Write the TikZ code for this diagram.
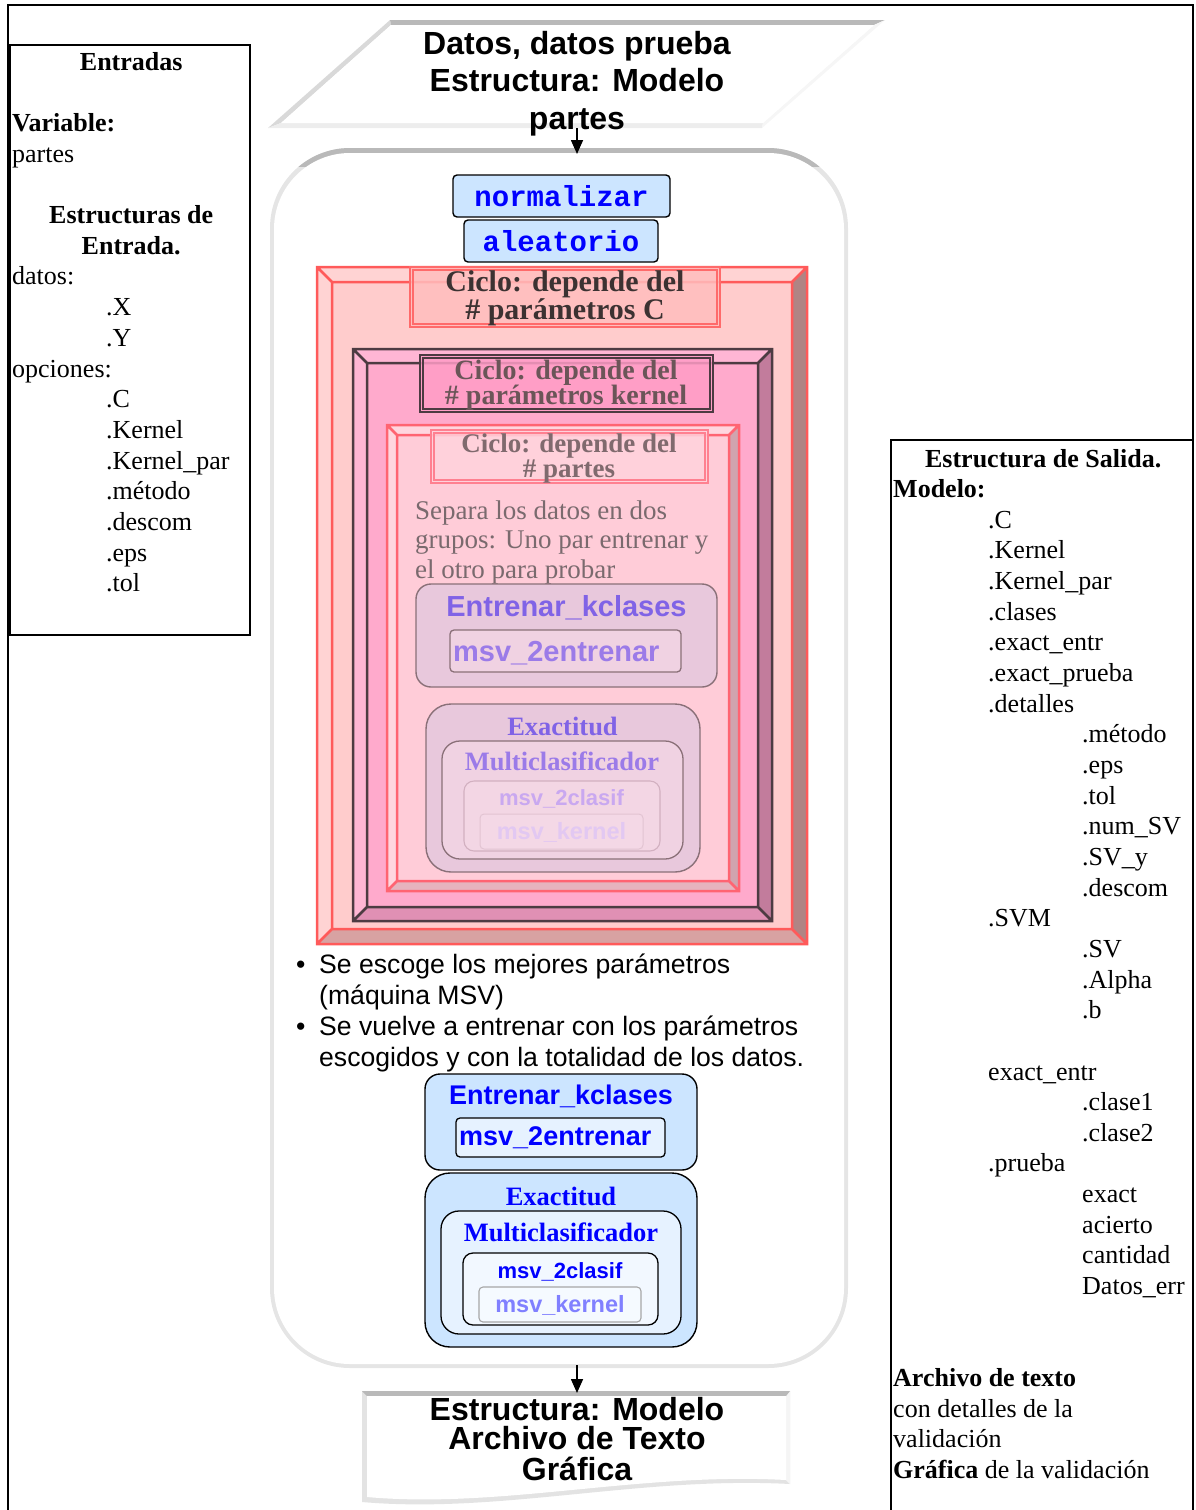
\documentclass[tikz,border=0pt]{standalone}
\usepackage{fontspec}
\setmainfont{Liberation Serif}
\setsansfont{Liberation Sans}
\setmonofont{Liberation Mono}
\usetikzlibrary{arrows.meta}

\definecolor{lblue}{HTML}{CCE5FF}
\definecolor{llblue}{HTML}{E6F2FF}
\definecolor{lllblue}{HTML}{F2F8FF}
\definecolor{kblue}{HTML}{8080FF}
\definecolor{pkbox}{HTML}{E8C8DC}
\definecolor{pkin}{HTML}{F0D2E2}
\definecolor{pkline}{HTML}{8A7078}
\definecolor{pkA}{HTML}{8063E6}
\definecolor{pkB}{HTML}{9B7BE8}
\definecolor{pkC}{HTML}{C9A8F0}
\definecolor{pkD}{HTML}{E2C8F2}

\newcommand\mybevel[5]{%
 \fill[bface] (#1,#2) rectangle (#3,#4);
 \fill[blight] (#1,#2) -- (#3,#2) -- ({#3-#5},{#2+#5}) -- ({#1+#5},{#2+#5}) -- cycle;
 \fill[blight] (#1,#2) -- ({#1+#5},{#2+#5}) -- ({#1+#5},{#4-#5}) -- (#1,#4) -- cycle;
 \fill[bdark] (#3,#2) -- (#3,#4) -- ({#3-#5},{#4-#5}) -- ({#3-#5},{#2+#5}) -- cycle;
 \fill[bbot] (#1,#4) -- (#3,#4) -- ({#3-#5},{#4-#5}) -- ({#1+#5},{#4-#5}) -- cycle;
 \draw[bline, line width=2.5pt] (#1,#2) rectangle (#3,#4) ({#1+#5},{#2+#5}) rectangle ({#3-#5},{#4-#5})
   (#1,#2) -- ({#1+#5},{#2+#5}) (#3,#2) -- ({#3-#5},{#2+#5})
   (#1,#4) -- ({#1+#5},{#4-#5}) (#3,#4) -- ({#3-#5},{#4-#5});
}
\newcommand\mydbl[4]{%
 \fill[lface, fill opacity=0.85] (#1,#2) rectangle (#3,#4);
 \draw[lline, line width=1.1pt] (#1,#2) rectangle (#3,#4) ({#1+3},{#2+3}) rectangle ({#3-3},{#4-3});
}

\begin{document}
\begin{tikzpicture}[x=1pt,y=-1pt,
  txt/.style={inner sep=0pt, anchor=base west, font=\fontsize{26}{31}\selectfont},
  ttl/.style={inner sep=0pt, anchor=base, font=\fontsize{32}{37}\selectfont\sffamily\bfseries},
  arr/.style={line width=1.6pt, -{Triangle[length=14pt,width=12pt]}},
  cbase/.style={inner sep=0pt, anchor=base},
  lbase/.style={inner sep=0pt, anchor=base west},
  mono/.style={draw=black, line width=1.4pt, fill=lblue, rounded corners=4pt, inner sep=0pt,
     font=\fontsize{29}{32}\selectfont\ttfamily\bfseries, text=blue},
]
\useasboundingbox (0,0) rectangle (1196,1510);

% outer frame and side panels
\draw[line width=1.6pt] (8,1512) -- (8,5) -- (1193,5) -- (1193,1512);
\draw[line width=1.6pt] (10,45) rectangle (250,635);
\draw[line width=1.6pt] (891,1512) -- (891,440) -- (1193,440);

% left panel text
\foreach \k/\x/\t [count=\n] in {0/12/{\makebox[238pt][c]{\textbf{Entradas}}}, 2/12/{\textbf{Variable:}},
  3/12/partes, 5/12/{\makebox[238pt][c]{\textbf{Estructuras de}}}, 6/12/{\makebox[238pt][c]{\textbf{Entrada.}}},
  7/12/{datos:}, 8/106/.X, 9/106/.Y, 10/12/{opciones:}, 11/106/.C, 12/106/.Kernel, 13/106/{.Kernel\_par},
  14/106/{.método}, 15/106/.descom, 16/106/.eps, 17/106/.tol}
  \node[txt] (in\n) at (\x,{70+30.7*\k}) {\t};

% right panel text
\foreach \k/\x/\t [count=\n] in {0/893/{\makebox[300pt][c]{\textbf{Estructura de Salida.}}}, 1/893/{\textbf{Modelo:}},
  2/988/.C, 3/988/.Kernel, 4/988/{.Kernel\_par}, 5/988/.clases, 6/988/{.exact\_entr}, 7/988/{.exact\_prueba},
  8/988/.detalles, 9/1082/{.método}, 10/1082/.eps, 11/1082/.tol, 12/1082/{.num\_SV}, 13/1082/{.SV\_y},
  14/1082/.descom, 15/988/.SVM, 16/1082/.SV, 17/1082/.Alpha, 18/1082/.b, 20/988/{exact\_entr},
  21/1082/.clase1, 22/1082/.clase2, 23/988/.prueba, 24/1082/exact, 25/1082/acierto, 26/1082/cantidad,
  27/1082/{Datos\_err}, 30/893/{\textbf{Archivo de texto}}, 31/893/{con detalles de la}, 32/893/{validación},
  33/893/{\textbf{Gráfica} de la validación}}
  \node[txt] (out\n) at (\x,{467+30.65*\k}) {\t};

% top input parallelogram
\fill[gray!30] (268,128) -- (390,20) -- (391,25) -- (281,123) -- cycle;
\fill[gray!55] (390,20) -- (885,20) -- (874,25) -- (391,25) -- cycle;
\fill[gray!14] (268,128) -- (762,128) -- (763,123) -- (281,123) -- cycle;
\fill[gray!7] (762,128) -- (885,20) -- (874,25) -- (763,123) -- cycle;
\fill[white] (281,123) -- (391,25) -- (874,25) -- (763,123) -- cycle;
\node[ttl] (t1) at (577,54) {Datos, datos prueba};
\node[ttl] (t2) at (577,91) {Estructura: Modelo};
\node[ttl] (t3) at (577,129) {partes};

% big container
\fill[gray!20, rounded corners=80pt] (270,148) rectangle (848,1368);
\begin{scope}
\clip (260,140) rectangle (860,166);
\fill[gray!55, rounded corners=80pt] (270,148) rectangle (848,1368);
\end{scope}
\fill[white, rounded corners=76pt] (274,153) rectangle (844,1364);

\coordinate (pin) at (577,128);
\coordinate (cin) at (577,154);
\draw[arr] (pin) -- (cin);

% normalizar / aleatorio
\node[mono, minimum width=217pt, minimum height=42pt] (norm) at (561.5,196) {normalizar};
\node[mono, minimum width=194pt, minimum height=42pt] (alea) at (561,241) {aleatorio};

% loop frame 1
\definecolor{bface}{HTML}{FFCCCC}
\definecolor{blight}{HTML}{FFD3D3}\definecolor{bdark}{HTML}{B08484}
\definecolor{bbot}{HTML}{D8A2A2}\definecolor{bline}{HTML}{FF5A5A}
\mybevel{317}{267}{807}{944}{15}
\definecolor{lface}{HTML}{FFBDBD}\definecolor{lline}{HTML}{FF6A6A}
\mydbl{410}{267}{720}{327}
\node[cbase, font=\fontsize{30}{30}\selectfont\bfseries, text={rgb,255:red,60;green,50;blue,50}] (c1a) at (565,291) {Ciclo: depende del};
\node[cbase, font=\fontsize{30}{30}\selectfont\bfseries, text={rgb,255:red,60;green,50;blue,50}] (c1b) at (565,319) {\# parámetros C};

% loop frame 2
\definecolor{bface}{HTML}{FFAACC}
\definecolor{blight}{HTML}{FFB6D4}\definecolor{bdark}{HTML}{C27C9C}
\definecolor{bbot}{HTML}{E090B4}\definecolor{bline}{HTML}{4D3B42}
\mybevel{353}{349}{772}{921}{14}
\definecolor{lface}{HTML}{FF9CC6}\definecolor{lline}{HTML}{4D3B42}
\mydbl{420}{355}{713}{412}
\node[cbase, font=\fontsize{28}{28}\selectfont\bfseries, text={rgb,255:red,107;green,85;blue,88}] (c2a) at (566,379) {Ciclo: depende del};
\node[cbase, font=\fontsize{28}{28}\selectfont\bfseries, text={rgb,255:red,107;green,85;blue,88}] (c2b) at (566,404) {\# parámetros kernel};

% loop frame 3
\definecolor{bface}{HTML}{FFCCD8}
\definecolor{blight}{HTML}{FFD6DF}\definecolor{bdark}{HTML}{D0A4AE}
\definecolor{bbot}{HTML}{E6B4BE}\definecolor{bline}{HTML}{FF6472}
\mybevel{387}{425}{739}{891}{10}
\definecolor{lface}{HTML}{FFD2DC}\definecolor{lline}{HTML}{FF8090}
\mydbl{431}{430}{708}{483}
\node[cbase, font=\fontsize{27}{27}\selectfont\bfseries, text={rgb,255:red,128;green,106;blue,110}] (c3a) at (569,452) {Ciclo: depende del};
\node[cbase, font=\fontsize{27}{27}\selectfont\bfseries, text={rgb,255:red,128;green,106;blue,110}] (c3b) at (569,477) {\# partes};

\foreach \k/\t [count=\n] in {0/{Separa los datos en dos}, 1/{grupos: Uno par entrenar y}, 2/{el otro para probar}}
  \node[lbase, font=\fontsize{27}{30}\selectfont, text={rgb,255:red,122;green,106;blue,110}] (sep\n) at (415,{519+29.5*\k}) {\t};

% pink training boxes
\draw[fill=pkbox, draw=pkline, line width=1.4pt, rounded corners=15pt] (416,584) rectangle (717,687);
\node[cbase, font=\fontsize{29}{32}\selectfont\sffamily\bfseries, text=pkA] (pe1) at (566.5,616) {Entrenar\_kclases};
\draw[fill=pkin, draw=pkline, line width=1.3pt, rounded corners=4pt] (450,630) rectangle (681,672);
\node[lbase, font=\fontsize{29}{32}\selectfont\sffamily\bfseries, text=pkB] (pe2) at (453,661) {msv\_2entrenar};

\draw[fill=pkbox, draw=pkline, line width=1.4pt, rounded corners=25pt] (426,704) rectangle (700,872);
\node[cbase, font=\fontsize{26.5}{30}\selectfont\bfseries, text=pkA] (px1) at (562.5,735) {Exactitud};
\draw[fill=pkin, draw=pkline, line width=1.3pt, rounded corners=18pt] (442,741) rectangle (683,859);
\node[cbase, font=\fontsize{26.5}{30}\selectfont\bfseries, text=pkB] (px2) at (562,770) {Multiclasificador};
\draw[fill={rgb,255:red,243;green,214;blue,228}, draw={rgb,255:red,210;green,176;blue,192}, line width=1.1pt, rounded corners=10pt] (464,781) rectangle (660,851);
\node[cbase, font=\fontsize{22}{26}\selectfont\sffamily\bfseries, text=pkC] (px3) at (561.5,805) {msv\_2clasif};
\draw[fill={rgb,255:red,244;green,216;blue,230}, draw={rgb,255:red,226;green,196;blue,210}, line width=1pt, rounded corners=4pt] (480,814) rectangle (643,849);
\node[cbase, font=\fontsize{23.5}{26}\selectfont\sffamily\bfseries, text=pkD] (px4) at (561.5,839) {msv\_kernel};

% bullets
\foreach \k/\t [count=\n] in {0/{\makebox[23pt][l]{•}Se escoge los mejores parámetros}, 1/{\makebox[23pt][l]{}(máquina MSV)},
   2/{\makebox[23pt][l]{•}Se vuelve a entrenar con los parámetros}, 3/{\makebox[23pt][l]{}escogidos y con la totalidad de los datos.}}
  \node[lbase, font=\fontsize{26.6}{31}\selectfont\sffamily] (bu\n) at (296,{973+31.2*\k}) {\t};

% blue training boxes
\draw[fill=lblue, draw=black, line width=1.4pt, rounded corners=15pt] (425,1074) rectangle (697,1170);
\node[cbase, font=\fontsize{27}{30}\selectfont\sffamily\bfseries, text=blue] (be1) at (561,1104) {Entrenar\_kclases};
\draw[fill=llblue, draw=black, line width=1.3pt, rounded corners=4pt] (456,1118) rectangle (665,1157);
\node[lbase, font=\fontsize{27}{30}\selectfont\sffamily\bfseries, text=blue] (be2) at (459,1145) {msv\_2entrenar};

\draw[fill=lblue, draw=black, line width=1.4pt, rounded corners=25pt] (425,1173) rectangle (697,1347);
\node[cbase, font=\fontsize{26.5}{30}\selectfont\bfseries, text=blue] (bx1) at (561,1205) {Exactitud};
\draw[fill=llblue, draw=black, line width=1.3pt, rounded corners=18pt] (441,1211) rectangle (681,1334);
\node[cbase, font=\fontsize{26.5}{30}\selectfont\bfseries, text=blue] (bx2) at (561,1241) {Multiclasificador};
\draw[fill=lllblue, draw=black, line width=1.3pt, rounded corners=10pt] (463,1253) rectangle (658,1325);
\node[cbase, font=\fontsize{22}{26}\selectfont\sffamily\bfseries, text=blue] (bx3) at (560,1278) {msv\_2clasif};
\draw[fill={rgb,255:red,245;green,250;blue,255}, draw=gray!70, line width=1.1pt, rounded corners=4pt] (479,1287) rectangle (641,1322);
\node[cbase, font=\fontsize{23.5}{26}\selectfont\sffamily\bfseries, text=kblue] (bx4) at (560,1312) {msv\_kernel};

% bottom output document shape
\fill[gray!22] (362,1391) -- (790,1391) -- (790,1484) .. controls (640,1476) and (500,1514) .. (362,1502) -- cycle;
\fill[gray!8] (790,1391) -- (790,1484) -- (786,1480) -- (786,1396) -- cycle;
\fill[gray!55] (362,1391) -- (790,1391) -- (786,1396) -- (367,1396) -- cycle;
\fill[white] (367,1396) -- (786,1396) -- (786,1480) .. controls (640,1472) and (500,1509) .. (367,1497) -- cycle;
\node[ttl] (o1) at (577,1420) {Estructura: Modelo};
\node[ttl] (o2) at (577,1449) {Archivo de Texto};
\node[ttl] (o3) at (577,1480) {Gráfica};

\coordinate (cout) at (577,1365);
\coordinate (dout) at (577,1393);
\draw[arr] (cout) -- (dout);
\end{tikzpicture}
\end{document}
